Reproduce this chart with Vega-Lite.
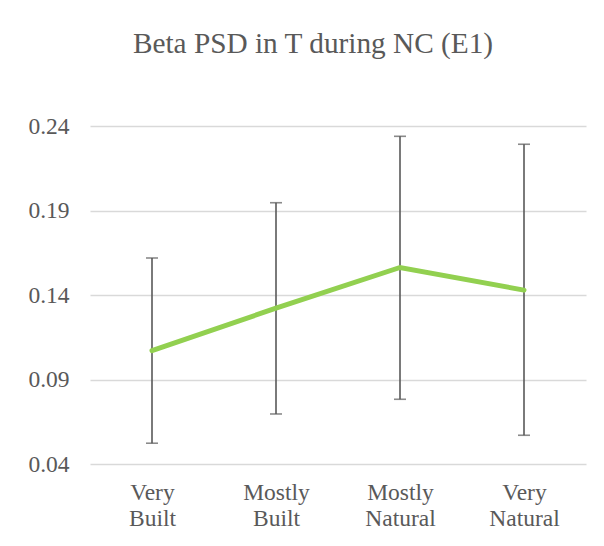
{
  "$schema": "https://vega.github.io/schema/vega-lite/v6.json",
  "width": 496,
  "height": 338,
  "autosize": "none",
  "padding": {"left": 90, "top": 126, "right": 18, "bottom": 82},
  "background": "white",
  "config": {"view": {"stroke": null}, "font": "Liberation Serif"},
  "title": {
    "text": "Beta PSD in T during NC (E1)",
    "font": "Liberation Serif",
    "fontSize": 29.3,
    "fontWeight": "normal",
    "color": "#595959",
    "anchor": "middle",
    "frame": "group",
    "baseline": "alphabetic",
    "dx": -25,
    "offset": 32
  },
  "data": {
    "values": [
      {"cat": "Very Built", "mean": 0.1071, "lo": 0.0523, "hi": 0.1619},
      {"cat": "Mostly Built", "mean": 0.1322, "lo": 0.0696, "hi": 0.1946},
      {"cat": "Mostly Natural", "mean": 0.1563, "lo": 0.0783, "hi": 0.2339},
      {"cat": "Very Natural", "mean": 0.1429, "lo": 0.0570, "hi": 0.2292}
    ]
  },
  "encoding": {
    "x": {
      "field": "cat",
      "type": "nominal",
      "sort": ["Very Built", "Mostly Built", "Mostly Natural", "Very Natural"],
      "scale": {"type": "point", "padding": 0.5},
      "axis": {
        "title": null,
        "labelAngle": 0,
        "labelExpr": "split(datum.label, ' ')",
        "labelFont": "Liberation Serif",
        "labelFontSize": 23.5,
        "labelColor": "#595959",
        "labelLineHeight": 26,
        "labelPadding": 16,
        "labelBaseline": "top",
        "domain": false,
        "ticks": false,
        "grid": false
      }
    }
  },
  "layer": [
    {
      "mark": {"type": "rule", "color": "#595959", "strokeWidth": 1.6},
      "encoding": {
        "y": {
          "field": "lo",
          "type": "quantitative",
          "scale": {"domain": [0.04, 0.24], "nice": false, "zero": false},
          "axis": {
            "title": null,
            "values": [0.04, 0.09, 0.14, 0.19, 0.24],
            "format": ".2f",
            "labelFont": "Liberation Serif",
            "labelFontSize": 23.5,
            "labelColor": "#595959",
            "labelPadding": 21,
            "domain": false,
            "ticks": false,
            "gridColor": "#d9d9d9",
            "gridWidth": 1.3
          }
        },
        "y2": {"field": "hi"}
      }
    },
    {
      "mark": {"type": "tick", "orient": "horizontal", "color": "#595959", "size": 12, "thickness": 1.6},
      "encoding": {"y": {"field": "lo", "type": "quantitative"}}
    },
    {
      "mark": {"type": "tick", "orient": "horizontal", "color": "#595959", "size": 12, "thickness": 1.6},
      "encoding": {"y": {"field": "hi", "type": "quantitative"}}
    },
    {
      "mark": {"type": "line", "color": "#92d050", "strokeWidth": 5, "strokeCap": "round"},
      "encoding": {"y": {"field": "mean", "type": "quantitative"}}
    }
  ]
}
